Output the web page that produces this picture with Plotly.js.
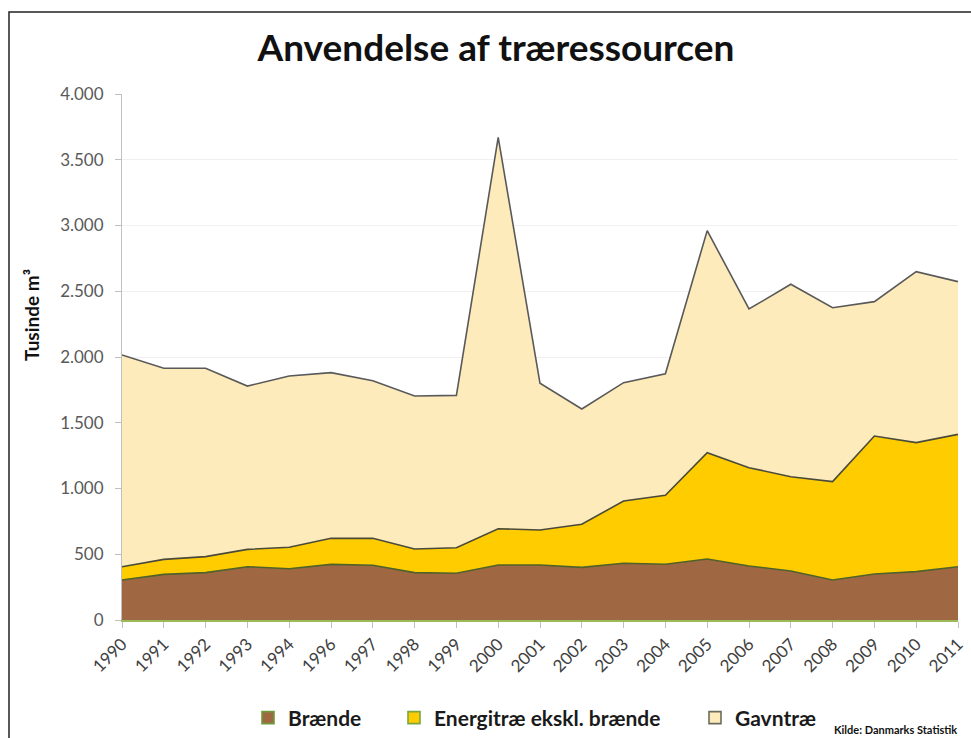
<!DOCTYPE html>
<html>
<head>
<meta charset="utf-8">
<script src="https://cdn.plot.ly/plotly-3.0.1.min.js"></script>
<style>
  html, body { margin: 0; padding: 0; background: #ffffff; }
  #chart { width: 971px; height: 738px; }
</style>
</head>
<body>
<div id="chart"></div>
<script>
// Categories (1995 is absent in the source chart)
const years = ['1990','1991','1992','1993','1994','1996','1997','1998','1999','2000',
               '2001','2002','2003','2004','2005','2006','2007','2008','2009','2010','2011'];

// Series values, tusinde m3 (stacked in this order)
const braende    = [304, 347, 360, 405, 390, 423, 416, 360, 355, 418, 418, 400, 431, 424, 464, 411, 373, 304, 350, 368, 405];
const energitrae = [101, 114, 122, 132, 163, 198, 205, 180, 195, 276, 266, 328, 474, 524, 808, 747, 717, 748, 1049, 981, 1007];
const gavntrae   = [1610, 1453, 1432, 1242, 1302, 1260, 1199, 1163, 1158, 2976, 1116, 877, 900, 925, 1689, 1207, 1463, 1323, 1022, 1300, 1161];

const seriesNames = ['Brænde', 'Energitræ ekskl. brænde', 'Gavntræ'];
const yTicks = [0, 500, 1000, 1500, 2000, 2500, 3000, 3500, 4000];

const FONT = 'Lato, "Open Sans", "DejaVu Sans", sans-serif';
const cFill = ['#9F6843', '#FFCC00', '#FEEBBB'];
const cLine = ['#4F6228', '#4A4A3A', '#595959'];
const cBox  = ['#6E9A3A', '#7AA640', '#6B6B5B'];

const areaData = [braende, energitrae, gavntrae];
const traces = areaData.map((vals, i) => ({
  type: 'scatter',
  mode: 'lines',
  x: years,
  y: vals,
  name: seriesNames[i],
  stackgroup: 'one',
  fillcolor: cFill[i],
  line: { color: cLine[i], width: 1.6, shape: 'linear' },
  showlegend: false,
  hoverinfo: 'x+y+name'
}));

// Legend entries (square swatches), each in its own positioned legend
const legendIds = ['legend', 'legend2', 'legend3'];
seriesNames.forEach((nm, i) => {
  traces.push({
    type: 'scatter',
    mode: 'markers',
    x: [null],
    y: [null],
    name: nm,
    legend: legendIds[i],
    showlegend: true,
    marker: { symbol: 'square', size: 12, color: cFill[i], line: { color: cBox[i], width: 1.6 } },
    hoverinfo: 'skip'
  });
});

const plotL = 122, plotR = 958, plotT = 94, plotB = 620;
const W = 971, H = 738;
const pw = plotR - plotL, ph = plotB - plotT;
const px = v => (v - plotL) / pw;
const py = v => (plotB - v) / ph;

function legendAt(xpix) {
  return {
    x: xpix / W, xref: 'container', xanchor: 'left',
    y: 1 - 718 / H, yref: 'container', yanchor: 'middle',
    orientation: 'h',
    bgcolor: 'rgba(0,0,0,0)',
    borderwidth: 0,
    itemwidth: 30,
    font: { family: FONT, size: 21, color: '#1a1a1a', weight: 'bold' }
  };
}

const layout = {
  width: W,
  height: H,
  paper_bgcolor: '#ffffff',
  plot_bgcolor: '#ffffff',
  separators: ',.',
  margin: { l: plotL, r: W - plotR, t: plotT, b: H - plotB, pad: 0, autoexpand: false },
  font: { family: FONT, color: '#595959' },
  title: {
    text: 'Anvendelse af træressourcen',
    font: { family: FONT, size: 37, color: '#111111', weight: 'bold' },
    xref: 'paper', x: px(496), xanchor: 'center',
    yref: 'container', y: 1 - 48 / H, yanchor: 'middle'
  },
  xaxis: {
    type: 'category',
    categoryorder: 'array',
    categoryarray: years,
    range: [0, years.length - 1],
    automargin: false,
    showgrid: false,
    zeroline: false,
    showline: true,
    linecolor: '#9BBB59',
    linewidth: 1.5,
    ticks: 'outside',
    ticklen: 6,
    tickcolor: '#BFBFBF',
    tickangle: -45,
    tickfont: { family: FONT, size: 17, color: '#404040' },
    fixedrange: true
  },
  yaxis: {
    range: [0, 4000],
    tickvals: yTicks,
    tickformat: ',d',
    automargin: false,
    showgrid: true,
    gridcolor: '#F0F0F0',
    gridwidth: 1,
    zeroline: false,
    showline: true,
    linecolor: '#BFBFBF',
    linewidth: 1,
    ticks: 'outside',
    ticklen: 6,
    tickcolor: '#BFBFBF',
    ticklabelstandoff: 8,
    tickfont: { family: FONT, size: 17, color: '#595959' },
    fixedrange: true
  },
  legend: legendAt(248),
  legend2: legendAt(394),
  legend3: legendAt(695),
  shapes: [{
    type: 'rect', xref: 'paper', yref: 'paper',
    x0: px(9), x1: px(W + 20), y0: py(H + 20), y1: py(12),
    line: { color: '#222222', width: 1.5 },
    fillcolor: 'rgba(0,0,0,0)',
    layer: 'below'
  }],
  annotations: [{
    text: 'Tusinde m³',
    textangle: -90,
    xref: 'paper', yref: 'paper',
    x: px(31), xanchor: 'center',
    y: py(315), yanchor: 'middle',
    showarrow: false,
    font: { family: FONT, size: 19, color: '#111111', weight: 'bold' }
  }, {
    text: 'Kilde: Danmarks Statistik',
    xref: 'paper', yref: 'paper',
    x: px(832), xanchor: 'left',
    y: py(729), yanchor: 'middle',
    showarrow: false,
    font: { family: FONT, size: 11, color: '#111111', weight: 'bold' }
  }],
  showlegend: true
};

Plotly.newPlot('chart', traces, layout, { displayModeBar: false, staticPlot: true });
</script>
</body>
</html>
